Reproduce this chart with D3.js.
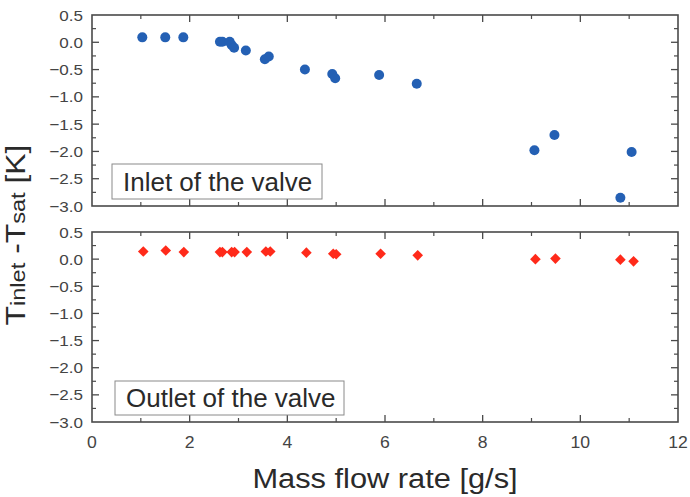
<!DOCTYPE html>
<html>
<head>
<meta charset="utf-8">
<script src="https://cdn.jsdelivr.net/npm/d3@7"></script>
<style>
  body { margin: 0; background: white; }
  text { font-family: "Liberation Sans", Arial, sans-serif; }
</style>
</head>
<body>
<div id="chart"></div>
<script>
// Inlet of the valve (blue circles)
const inletFlow = [1.03, 1.50, 1.87, 2.62, 2.67, 2.82, 2.86, 2.91, 3.15, 3.54, 3.62, 4.36, 4.92, 4.98, 5.88, 6.65, 9.06, 9.47, 10.82, 11.05];
const inletDT   = [0.09, 0.09, 0.09, 0.01, 0.01, 0.01, -0.05, -0.10, -0.15, -0.31, -0.26, -0.50, -0.58, -0.66, -0.60, -0.76, -1.98, -1.70, -2.85, -2.01];

// Outlet of the valve (red diamonds)
const outletFlow = [1.05, 1.51, 1.88, 2.62, 2.67, 2.86, 2.92, 3.17, 3.56, 3.65, 4.39, 4.94, 5.00, 5.91, 6.67, 9.08, 9.49, 10.82, 11.09];
const outletDT   = [0.14, 0.16, 0.13, 0.13, 0.13, 0.13, 0.13, 0.13, 0.14, 0.14, 0.12, 0.10, 0.09, 0.10, 0.07, 0.00, 0.01, -0.01, -0.04];

const xTicks = [0, 2, 4, 6, 8, 10, 12];
const yTicks = [0.5, 0.0, -0.5, -1.0, -1.5, -2.0, -2.5, -3.0];

const W = 690, H = 497;
const left = 92, right = 678;
const panels = [
  {top: 15, bottom: 206, xs: inletFlow, ys: inletDT, kind: "circle", label: "Inlet of the valve", box: [112, 164, 210, 35]},
  {top: 232, bottom: 422, xs: outletFlow, ys: outletDT, kind: "diamond", label: "Outlet of the valve", box: [115, 381, 229, 34]}
];

const svg = d3.select("#chart").append("svg")
    .attr("width", W)
    .attr("height", H);

svg.append("rect").attr("width", W).attr("height", H).attr("fill", "white");

const x = d3.scaleLinear().domain([0, 12]).range([left, right]);
const frameColor = "#4a4a4a";
const textColor = "#444";

panels.forEach(function(p) {
  const y = d3.scaleLinear().domain([-3, 0.5]).range([p.bottom, p.top]);
  const g = svg.append("g");

  // minor + major ticks, inward, on all four sides
  const xMinor = d3.range(1, 12, 2);
  const yMinor = d3.range(-2.75, 0.5, 0.5);

  [p.bottom, p.top].forEach(function(edge) {
    const dir = edge === p.bottom ? -1 : 1;
    g.selectAll(null).data(xTicks.slice(1, -1)).enter().append("line")
      .attr("x1", d => x(d)).attr("x2", d => x(d))
      .attr("y1", edge).attr("y2", edge + dir * 7)
      .attr("stroke", frameColor).attr("stroke-width", 1.3);
    g.selectAll(null).data(xMinor).enter().append("line")
      .attr("x1", d => x(d)).attr("x2", d => x(d))
      .attr("y1", edge).attr("y2", edge + dir * 4)
      .attr("stroke", frameColor).attr("stroke-width", 1.2);
  });

  [left, right].forEach(function(edge) {
    const dir = edge === left ? 1 : -1;
    g.selectAll(null).data(yTicks.slice(1, -1)).enter().append("line")
      .attr("x1", edge).attr("x2", edge + dir * 7)
      .attr("y1", d => y(d)).attr("y2", d => y(d))
      .attr("stroke", frameColor).attr("stroke-width", 1.3);
    g.selectAll(null).data(yMinor).enter().append("line")
      .attr("x1", edge).attr("x2", edge + dir * 4)
      .attr("y1", d => y(d)).attr("y2", d => y(d))
      .attr("stroke", frameColor).attr("stroke-width", 1.2);
  });

  // frame
  g.append("rect")
    .attr("x", left).attr("y", p.top)
    .attr("width", right - left).attr("height", p.bottom - p.top)
    .attr("fill", "none").attr("stroke", frameColor).attr("stroke-width", 1.6);

  // y tick labels
  g.selectAll(".ylab").data(yTicks).enter().append("text")
    .attr("transform", d => `translate(${left - 9},${y(d)}) scale(1.1,1)`)
    .attr("dy", "0.36em")
    .attr("text-anchor", "end")
    .attr("font-size", 15.5)
    .attr("fill", textColor)
    .text(d => d3.format(".1f")(d));

  // legend box
  g.append("rect")
    .attr("x", p.box[0]).attr("y", p.box[1])
    .attr("width", p.box[2]).attr("height", p.box[3])
    .attr("fill", "white").attr("stroke", "#8a8a8a").attr("stroke-width", 1);
  g.append("text")
    .attr("transform", `translate(${p.box[0] + 11},${p.box[1] + p.box[3] / 2}) scale(1.04,1)`)
    .attr("dy", "0.36em")
    .attr("font-size", 25)
    .attr("fill", "#2a2a2a")
    .text(p.label);

  // markers
  const pts = p.xs.map((v, i) => ({x: v, y: p.ys[i]}));
  if (p.kind === "circle") {
    g.selectAll(".pt").data(pts).enter().append("circle")
      .attr("cx", d => x(d.x)).attr("cy", d => y(d.y))
      .attr("r", 5)
      .attr("fill", "#2460b4");
  } else {
    const sym = d3.symbol().type(d3.symbolDiamond2).size(72);
    g.selectAll(".pt").data(pts).enter().append("path")
      .attr("d", sym)
      .attr("transform", d => `translate(${x(d.x)},${y(d.y)})`)
      .attr("fill", "#ff2a1a");
  }
});

// x tick labels (only under bottom panel)
svg.selectAll(".xlab").data(xTicks).enter().append("text")
  .attr("transform", d => `translate(${x(d)},442) scale(1.1,1)`)
  .attr("dy", "0.36em")
  .attr("text-anchor", "middle")
  .attr("font-size", 16)
  .attr("fill", textColor)
  .text(d => d);

// axis titles
svg.append("text")
  .attr("transform", `translate(385,478) scale(1.1,1)`)
  .attr("dy", "0.36em")
  .attr("text-anchor", "middle")
  .attr("font-size", 28)
  .attr("fill", "#2a2a2a")
  .text("Mass flow rate [g/s]");

const yt = svg.append("text")
  .attr("transform", "translate(25,235) rotate(-90) scale(1.18,1)")
  .attr("text-anchor", "middle")
  .attr("font-size", 27)
  .attr("fill", "#2a2a2a");
yt.append("tspan").text("T");
yt.append("tspan").attr("font-size", 20).text("inlet");
yt.append("tspan").text(" -T");
yt.append("tspan").attr("font-size", 20).text("sat");
yt.append("tspan").text(" [K]");
</script>
</body>
</html>
